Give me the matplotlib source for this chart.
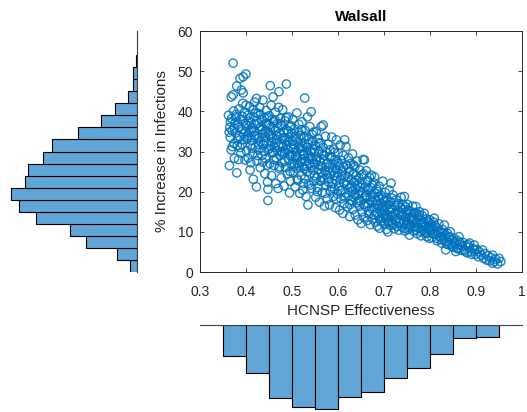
"""Scatter of HCNSP effectiveness vs infection increase, with marginal histograms."""

import matplotlib

matplotlib.use("Agg")

import matplotlib.pyplot as plt  # noqa: E402
import numpy as np  # noqa: E402

plt.rcParams["font.family"] = ["Liberation Sans", "DejaVu Sans"]

# ----------------------------------------------------------------------
# Data
# ----------------------------------------------------------------------
eff = [
    0.362, 0.364, 0.365, 0.366, 0.368, 0.368, 0.369, 0.370, 0.372, 0.372, 0.373, 0.374, 0.375,
    0.376, 0.378, 0.379, 0.380, 0.380, 0.381, 0.383, 0.384, 0.385, 0.386, 0.387, 0.388, 0.389,
    0.390, 0.391, 0.392, 0.393, 0.394, 0.394, 0.395, 0.396, 0.397, 0.398, 0.399, 0.400, 0.400,
    0.401, 0.402, 0.403, 0.404, 0.405, 0.407, 0.408, 0.409, 0.410, 0.411, 0.412, 0.414, 0.415,
    0.416, 0.417, 0.418, 0.419, 0.420, 0.421, 0.423, 0.423, 0.424, 0.425, 0.426, 0.428, 0.429,
    0.430, 0.431, 0.432, 0.434, 0.435, 0.436, 0.437, 0.438, 0.440, 0.441, 0.442, 0.443, 0.444,
    0.445, 0.446, 0.447, 0.448, 0.448, 0.449,
    0.450, 0.451, 0.452, 0.453, 0.453, 0.454, 0.455, 0.456, 0.457, 0.458, 0.459, 0.460, 0.461,
    0.462, 0.463, 0.464, 0.465, 0.466, 0.467, 0.468, 0.469, 0.470, 0.471, 0.472, 0.472, 0.473,
    0.474, 0.475, 0.476, 0.477, 0.478, 0.479, 0.480, 0.481, 0.482, 0.483, 0.484, 0.485, 0.486,
    0.487, 0.488, 0.489, 0.490, 0.491, 0.492, 0.493, 0.494, 0.495, 0.496, 0.497, 0.498, 0.499,
    0.500, 0.501, 0.502, 0.503, 0.504, 0.505, 0.506, 0.507, 0.508, 0.509, 0.510, 0.511, 0.512,
    0.513, 0.514, 0.515, 0.516, 0.517, 0.518, 0.519, 0.520, 0.521, 0.522, 0.523, 0.524, 0.525,
    0.526, 0.527, 0.528, 0.528, 0.529, 0.530, 0.531, 0.532, 0.533, 0.534, 0.535, 0.535, 0.536,
    0.537, 0.538, 0.539, 0.540, 0.541, 0.542, 0.543, 0.544, 0.545, 0.546, 0.547, 0.548, 0.549,
    0.550, 0.551, 0.552, 0.553, 0.554, 0.555, 0.556, 0.557, 0.558, 0.559, 0.560, 0.561, 0.562,
    0.563, 0.564, 0.564, 0.565, 0.566, 0.567, 0.568, 0.568, 0.569, 0.570, 0.571, 0.572, 0.573,
    0.574, 0.575, 0.576, 0.577, 0.578, 0.579, 0.580, 0.581, 0.582, 0.583, 0.584, 0.585, 0.586,
    0.587, 0.588, 0.589, 0.590, 0.591, 0.592, 0.593, 0.594, 0.595, 0.596, 0.597, 0.597, 0.598,
    0.599,
    0.600, 0.601, 0.602, 0.603, 0.604, 0.605, 0.606, 0.607, 0.608, 0.609, 0.610, 0.611, 0.612,
    0.613, 0.614, 0.615, 0.616, 0.617, 0.618, 0.619, 0.620, 0.621, 0.622, 0.623, 0.624, 0.625,
    0.626, 0.627, 0.628, 0.629, 0.630, 0.631, 0.632, 0.633, 0.634, 0.635, 0.636, 0.637, 0.638,
    0.639, 0.640, 0.641, 0.642, 0.643, 0.644, 0.645, 0.646, 0.647, 0.648, 0.649,
    0.650, 0.651, 0.652, 0.653, 0.654, 0.655, 0.656, 0.657, 0.658, 0.659, 0.660, 0.661, 0.662,
    0.663, 0.664, 0.665, 0.666, 0.667, 0.668, 0.669, 0.670, 0.671, 0.672, 0.673, 0.674, 0.675,
    0.676, 0.677, 0.678, 0.679, 0.680, 0.681, 0.682, 0.683, 0.684, 0.685, 0.686, 0.687, 0.688,
    0.689, 0.690, 0.691, 0.692, 0.693, 0.694, 0.695, 0.696, 0.697, 0.698, 0.699,
    0.700, 0.701, 0.702, 0.703, 0.704, 0.705, 0.706, 0.707, 0.708, 0.709, 0.710, 0.711, 0.712,
    0.713, 0.714, 0.715, 0.716, 0.717, 0.718, 0.719, 0.720, 0.722, 0.723, 0.724, 0.725, 0.727,
    0.728, 0.729, 0.730, 0.732, 0.733, 0.734, 0.736, 0.737, 0.738, 0.740, 0.741, 0.743, 0.744,
    0.745, 0.746, 0.747, 0.748, 0.749,
    0.750, 0.751, 0.752, 0.754, 0.755, 0.756, 0.757, 0.759, 0.760, 0.762, 0.763, 0.765, 0.766,
    0.768, 0.769, 0.770, 0.772, 0.773, 0.775, 0.776, 0.778, 0.779, 0.781, 0.782, 0.784, 0.785,
    0.787, 0.788, 0.790, 0.791, 0.793, 0.794, 0.796, 0.797, 0.799, 0.799,
    0.800, 0.802, 0.803, 0.805, 0.807, 0.809, 0.810, 0.812, 0.814, 0.816, 0.818, 0.820, 0.822,
    0.824, 0.826, 0.828, 0.830, 0.832, 0.834, 0.835, 0.837, 0.839, 0.841, 0.843, 0.845, 0.847,
    0.849,
    0.851, 0.853, 0.855, 0.857, 0.860, 0.862, 0.864, 0.866, 0.869, 0.872, 0.875, 0.878, 0.881,
    0.884, 0.887, 0.890, 0.894,
    0.897, 0.900, 0.903, 0.906, 0.909, 0.912, 0.915, 0.918, 0.921, 0.924, 0.927, 0.930, 0.934,
    0.937, 0.937, 0.941, 0.944, 0.948, 0.951, 0.955,
    # second pass through the dense core
    0.4025, 0.4065, 0.4105, 0.4135, 0.4175, 0.4215, 0.4255, 0.4285, 0.4325, 0.4365, 0.4395,
    0.4435, 0.4465, 0.4505, 0.4545, 0.4575, 0.4615, 0.4655, 0.4695, 0.4735, 0.4765, 0.4805,
    0.4845, 0.4885, 0.4925, 0.4965, 0.4995,
    0.5015, 0.5045, 0.5085, 0.5115, 0.5145, 0.5185, 0.5225, 0.5255, 0.5285, 0.5325, 0.5355,
    0.5395, 0.5425, 0.5455, 0.5495, 0.5525, 0.5555, 0.5585, 0.5625, 0.5655, 0.5695, 0.5725,
    0.5755, 0.5795, 0.5825, 0.5865, 0.5895, 0.5935, 0.5965, 0.5985,
    0.6015, 0.6055, 0.6085, 0.6125, 0.6165, 0.6195, 0.6235, 0.6265, 0.6305, 0.6345, 0.6375,
    0.6415, 0.6455, 0.6485, 0.6525, 0.6565, 0.6605, 0.6645, 0.6675, 0.6715, 0.6755, 0.6795,
    0.6835, 0.6875, 0.6915, 0.6955, 0.6985,
    0.7015, 0.7055, 0.7095, 0.7135, 0.7175, 0.7215, 0.7255, 0.7295, 0.7335, 0.7375, 0.7415,
    0.7455, 0.7495, 0.7535, 0.7575, 0.7615, 0.7655, 0.7695, 0.7735, 0.7775, 0.7815, 0.7855,
    0.7895, 0.7935, 0.7975,
    0.8015, 0.8065, 0.8115, 0.8155, 0.8215, 0.8255, 0.8315, 0.8365, 0.8425, 0.8485, 0.8535,
    0.8595, 0.8655, 0.8705, 0.8775, 0.8835, 0.8915, 0.8985,
    # third pass, upper-left part of the cloud
    0.3635, 0.3665, 0.3705, 0.3745, 0.3775, 0.3815, 0.3845, 0.3875, 0.3915, 0.3945, 0.3985,
    0.4045, 0.4085, 0.4125, 0.4165, 0.4205, 0.4245, 0.4275, 0.4315, 0.4355, 0.4395, 0.4425,
    0.4455, 0.4485,
    0.4515, 0.4555, 0.4595, 0.4635, 0.4675, 0.4715, 0.4755, 0.4795, 0.4835, 0.4875, 0.4915,
    0.4955, 0.4985, 0.5035, 0.5075, 0.5125, 0.5165, 0.5205, 0.5245, 0.5275, 0.5315, 0.5365,
    0.5405, 0.5445, 0.5485,
]
inc = [
    39.0, 26.5, 36.0, 33.5, 30.4, 43.6, 38.2, 35.2, 52.0, 44.1, 40.1, 32.0, 28.3,
    37.0, 34.6, 39.3, 24.7, 46.3, 31.5, 36.8, 28.0, 40.6, 33.8, 48.2, 38.0, 29.6,
    45.3, 35.5, 31.8, 42.0, 48.6, 44.6, 37.6, 33.0, 39.8, 27.9, 35.0, 49.3, 41.5,
    30.2, 36.5, 33.6, 39.0, 28.4, 34.8, 41.2, 25.4, 31.5, 37.2, 32.8, 35.9, 29.5,
    23.1, 38.6, 34.0, 42.3, 31.0, 36.7, 21.2, 43.2, 27.6, 33.2, 39.5, 30.4, 35.6,
    41.0, 26.0, 32.5, 37.8, 29.0, 34.4, 42.8, 31.6, 38.4, 24.5, 35.0, 28.2, 40.2,
    32.0, 36.8, 22.4, 17.8, 20.6, 30.5,
    34.2, 38.9, 27.0, 46.4, 31.4, 36.0, 41.5, 24.0, 29.6, 33.5, 43.6, 37.4, 26.5,
    31.0, 35.2, 39.8, 22.0, 28.4, 33.0, 37.0, 30.2, 20.8, 41.0, 44.9, 25.8, 34.5,
    29.0, 38.2, 32.0, 23.5, 36.4, 27.2, 40.4, 31.2, 34.8, 21.4, 29.8, 37.6, 26.0,
    32.8, 46.8, 35.4, 24.4, 30.4, 38.6, 28.0, 33.6, 19.7, 36.2, 22.6, 31.0, 26.8,
    34.6, 29.0, 38.0, 24.8, 31.8, 27.0, 35.6, 21.2, 30.0, 33.2, 25.8, 39.6, 28.6,
    22.8, 32.4, 36.8, 26.4, 19.6, 30.8, 34.0, 24.0, 28.0, 37.4, 31.4, 20.4, 26.2,
    33.6, 29.2, 43.3, 23.2, 35.2, 27.6, 18.8, 31.0, 25.0, 38.6, 16.7, 29.4, 22.0,
    33.0, 27.0, 36.2, 24.6, 30.2, 39.9, 20.8, 28.2, 32.6, 25.4, 34.8, 22.6, 29.8,
    26.8, 31.4, 18.6, 35.0, 23.4, 28.6, 21.0, 33.2, 25.6, 30.0, 17.4, 27.6, 22.6,
    32.0, 36.2, 24.8, 29.4, 19.8, 26.2, 36.6, 31.0, 23.0, 28.0, 16.4, 25.2, 33.8,
    21.6, 29.8, 24.2, 18.2, 27.2, 31.8, 22.4, 26.0, 16.7, 30.4, 20.2, 24.6, 28.6,
    33.6, 22.0, 26.8, 18.8, 30.6, 24.0, 20.6, 28.0, 16.0, 25.6, 32.9, 22.8, 27.4,
    19.4,
    24.6, 29.6, 21.4, 26.4, 15.4, 31.6, 23.0, 18.2, 27.8, 20.4, 25.2, 14.6, 29.0,
    22.2, 17.0, 32.9, 24.0, 19.6, 31.2, 26.6, 21.8, 16.2, 23.6, 28.4, 19.0, 25.0,
    13.8, 21.0, 27.0, 17.8, 23.0, 20.0, 29.4, 15.6, 24.6, 18.6, 22.4, 26.2, 14.2,
    20.8, 24.0, 17.2, 27.6, 21.6, 13.0, 19.4, 23.4, 16.4, 25.4, 20.2,
    17.6, 12.1, 22.0, 15.0, 19.8, 28.0, 24.4, 13.6, 27.9, 18.4, 21.2, 16.2, 25.2,
    19.0, 12.8, 22.8, 17.0, 20.4, 14.4, 23.6, 18.0, 11.8, 21.0, 24.1, 15.8, 19.4,
    13.2, 17.4, 22.2, 16.0, 23.7, 19.6, 12.4, 17.8, 14.8, 20.6, 11.4, 16.6, 18.8,
    13.8, 21.4, 10.9, 15.4, 17.2, 12.6, 19.0, 14.6, 16.4, 22.6, 13.4,
    17.6, 12.0, 15.2, 19.8, 13.6, 16.4, 10.6, 18.4, 14.2, 10.0, 16.8, 12.8, 20.4,
    15.0, 11.6, 17.4, 22.1, 13.8, 15.8, 12.2, 19.2, 14.4, 10.8, 16.6, 13.0, 18.0,
    11.4, 15.4, 13.4, 17.0, 10.4, 14.8, 12.4, 16.0, 18.6, 11.2, 14.0, 15.6, 12.6,
    18.8, 10.2, 13.6, 16.2, 11.8,
    14.6, 12.0, 16.8, 10.6, 13.4, 9.2, 15.2, 11.6, 14.0, 12.6, 16.4, 10.2, 13.0,
    11.2, 14.8, 16.3, 12.2, 9.6, 13.8, 11.0, 15.0, 12.8, 9.0, 11.8, 14.0, 10.4,
    12.4, 14.6, 9.8, 11.4, 13.2, 8.8, 10.8, 12.6, 8.4, 11.0,
    13.0, 10.2, 11.8, 8.6, 10.8, 12.4, 13.4, 9.4, 11.0, 7.8, 10.0, 12.0, 8.8,
    9.8, 7.2, 10.6, 8.2, 11.7, 9.2, 5.5, 7.6, 9.6, 6.8, 8.6, 10.0, 7.0,
    8.0,
    6.2, 8.4, 7.0, 5.1, 7.8, 6.0, 8.8, 6.8, 5.4, 7.4, 5.5, 6.6, 4.8,
    6.2, 7.2, 5.0, 5.8,
    6.7, 4.4, 5.6, 3.8, 5.0, 4.2, 5.5, 3.4, 4.6, 3.0, 4.0, 2.8, 3.6,
    2.2, 4.2, 2.6, 3.2, 2.0, 3.4, 2.6,
    # second pass through the dense core
    33.0, 37.6, 27.2, 30.8, 35.0, 39.6, 29.0, 33.4, 36.2, 27.4, 32.6,
    37.0, 26.6, 30.8, 34.0, 38.0, 28.0, 32.2, 35.8, 26.2, 30.0, 33.4,
    27.6, 31.6, 35.0, 25.0, 29.4,
    32.6, 26.2, 28.8, 23.2, 34.8, 27.4, 30.2, 22.0, 25.6, 33.8, 28.4,
    21.6, 26.0, 30.6, 24.0, 28.0, 20.0, 32.2, 26.4, 23.6, 29.0, 19.6,
    26.8, 23.2, 28.8, 21.2, 25.2, 29.8, 18.2, 23.8,
    27.0, 20.2, 23.8, 26.2, 18.6, 22.6, 25.8, 16.8, 21.4, 26.6, 19.2,
    22.8, 17.8, 21.0, 24.2, 16.8, 19.0, 22.4, 15.2, 18.6, 21.6, 14.2,
    16.8, 20.0, 13.2, 16.0, 18.4,
    14.2, 17.8, 12.4, 15.6, 18.4, 11.8, 14.6, 16.6, 12.2, 14.2, 16.8,
    10.8, 13.2, 15.4, 11.0, 13.4, 14.8, 10.6, 12.4, 14.2, 10.0, 12.6,
    11.2, 9.6, 12.2,
    11.2, 9.6, 11.6, 8.4, 10.4, 8.0, 9.8, 7.0, 8.8, 6.4, 7.6,
    5.8, 7.4, 6.4, 5.2, 6.8, 4.4, 5.4,
    # third pass, upper-left part of the cloud
    34.8, 37.4, 31.2, 35.8, 38.6, 33.2, 36.0, 31.0, 38.8, 34.4, 37.0,
    34.0, 38.4, 35.2, 40.4, 33.8, 37.0, 31.8, 39.2, 35.4, 30.0, 33.6,
    38.6, 34.8,
    36.6, 32.4, 29.8, 37.8, 34.0, 31.4, 36.8, 29.6, 33.2, 38.4, 32.4,
    29.0, 36.4, 30.6, 33.6, 27.0, 31.2, 35.4, 29.0, 32.0, 26.4, 31.8,
    28.6, 34.2, 27.2,
]

# marginal histogram counts (bin width 0.05 on x, 3 on y)
eff_edges = [0.35, 0.40, 0.45, 0.50, 0.55, 0.60, 0.65, 0.70, 0.75, 0.80, 0.85, 0.90, 0.95]
eff_counts = [51, 79, 121, 135, 139, 119, 111, 87, 71, 47, 21, 19]
inc_edges = [0, 3, 6, 9, 12, 15, 18, 21, 24, 27, 30, 33, 36, 39, 42, 45, 48, 51, 54]
inc_counts = [7, 20, 50, 65, 99, 115, 123, 109, 106, 92, 83, 58, 35, 21, 9, 4, 4, 1]

x_ticks = [0.3, 0.4, 0.5, 0.6, 0.7, 0.8, 0.9, 1.0]
x_tick_labels = ["0.3", "0.4", "0.5", "0.6", "0.7", "0.8", "0.9", "1"]
y_ticks = [0, 10, 20, 30, 40, 50, 60]

BLUE = "#0072BD"
BAR = "#62A6D8"
GREY = "#262626"

W, H = 527, 412
fig = plt.figure(figsize=(W / 100, H / 100), dpi=100)

# ----------------------------------------------------------------------
# Main scatter
# ----------------------------------------------------------------------
ax = fig.add_axes([200 / W, 1 - 272 / H, 321.5 / W, 241 / H])
ax.scatter(eff, inc, s=36, facecolors="none", edgecolors=BLUE, linewidths=1.0, alpha=0.85)
ax.set_xlim(0.3, 1.0)
ax.set_ylim(0, 60)
ax.set_xticks(x_ticks)
ax.set_xticklabels(x_tick_labels)
ax.set_yticks(y_ticks)
ax.tick_params(direction="in", length=3, width=0.6, colors=GREY, labelsize=10,
               top=True, right=True)
ax.tick_params(axis="x", pad=9)
ax.tick_params(axis="y", pad=5)
for sp in ax.spines.values():
    sp.set_color(GREY)
    sp.set_linewidth(0.7)
ax.set_xlabel("HCNSP Effectiveness", fontsize=11, color=GREY, labelpad=4)
ax.set_ylabel("% Increase in Infections", fontsize=11, color=GREY, labelpad=6)
ax.set_title("Walsall", fontsize=11, fontweight="bold", pad=7)

# ----------------------------------------------------------------------
# Left histogram (bars grow leftwards)
# ----------------------------------------------------------------------
axl = fig.add_axes([10 / W, 1 - 272 / H, 127 / W, 241 / H])
axl.barh(inc_edges[:-1], inc_counts, height=np.diff(inc_edges), align="edge",
         color=BAR, edgecolor="black", linewidth=0.8)
axl.set_ylim(0, 60)
axl.set_xlim(124, 0)
axl.set_xticks([])
axl.set_yticks([])
for name, sp in axl.spines.items():
    sp.set_visible(name == "right")
axl.spines["right"].set_color("#404040")
axl.spines["right"].set_linewidth(0.8)
axl.patch.set_visible(False)

# ----------------------------------------------------------------------
# Bottom histogram (bars grow downwards)
# ----------------------------------------------------------------------
axb = fig.add_axes([200 / W, 1 - 410 / H, 321.5 / W, 85 / H])
axb.bar(eff_edges[:-1], eff_counts, width=np.diff(eff_edges), align="edge",
        color=BAR, edgecolor="black", linewidth=0.8)
axb.set_xlim(0.3, 1.0)
axb.set_ylim(140, 0)
axb.set_xticks([])
axb.set_yticks([])
for name, sp in axb.spines.items():
    sp.set_visible(name == "top")
axb.spines["top"].set_color("#404040")
axb.spines["top"].set_linewidth(0.8)
axb.patch.set_visible(False)

fig.savefig("out.png", dpi=100)
plt.close(fig)
